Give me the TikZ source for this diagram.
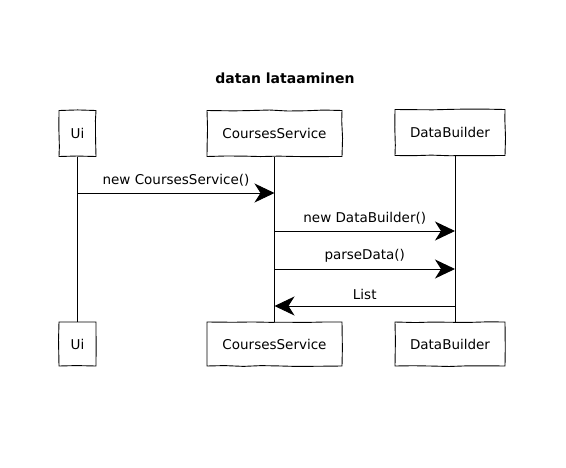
\documentclass[tikz,border=0pt]{standalone}
\usepackage{fontspec}
\setmainfont{DejaVu Sans}
\usepackage{tikz}
\usetikzlibrary{arrows.meta, positioning, calc, decorations.pathmorphing}

\tikzset{
  sketch/.style={decorate, decoration={random steps, segment length=18pt, amplitude=0.6pt}},
  actor/.style={draw, line width=0.9pt, sketch, minimum height=46pt, inner sep=0pt, font=\fontsize{13.5}{16}\selectfont},
  lifeline/.style={line width=0.9pt},
  msg/.style={line width=0.9pt, -{Stealth[length=20pt, width=19pt, inset=6pt]}},
  msglabel/.style={above=3pt, midway, font=\fontsize{13.5}{16}\selectfont}
}

\begin{document}
\begin{tikzpicture}[x=1pt, y=-1pt]
  \useasboundingbox (0, 0) rectangle (566, 467);

  \node [font=\bfseries\fontsize{14}{16}\selectfont] (title) at (285, 78) {datan lataaminen};

  % top row
  \node [actor, minimum width=37pt] (ui) at (77.5, 133.5) {Ui};
  \node [actor, minimum width=135pt] (cs) at (274.5, 133.5) {CoursesService};
  \node [actor, minimum width=110pt] (db) at (450, 132.5) {DataBuilder};

  % bottom row
  \node [actor, minimum width=37pt, minimum height=44pt] (uib) at (77.5, 344) {Ui};
  \node [actor, minimum width=135pt, minimum height=44pt] (csb) at (274.5, 344) {CoursesService};
  \node [actor, minimum width=110pt, minimum height=44pt] (dbb) at (450, 344) {DataBuilder};

  \coordinate (dbline) at ([xshift=5pt]db.south);
  \coordinate (dbbline) at ([xshift=5pt]dbb.north);

  \draw [lifeline] (ui) -- (uib);
  \draw [lifeline] (cs) -- (csb);
  \draw [lifeline] (dbline) -- (dbbline);

  \draw [msg] (ui.south |- 0, 193) to node [msglabel] {new CoursesService()} (cs.south |- 0, 193);
  \draw [msg] (cs.south |- 0, 231) to node [msglabel] {new DataBuilder()} (dbline |- 0, 231);
  \draw [msg] (cs.south |- 0, 269) to node [msglabel] {parseData()} (dbline |- 0, 269);
  \draw [msg] (dbline |- 0, 306) to node [msglabel] {List} (cs.south |- 0, 306);
\end{tikzpicture}
\end{document}
